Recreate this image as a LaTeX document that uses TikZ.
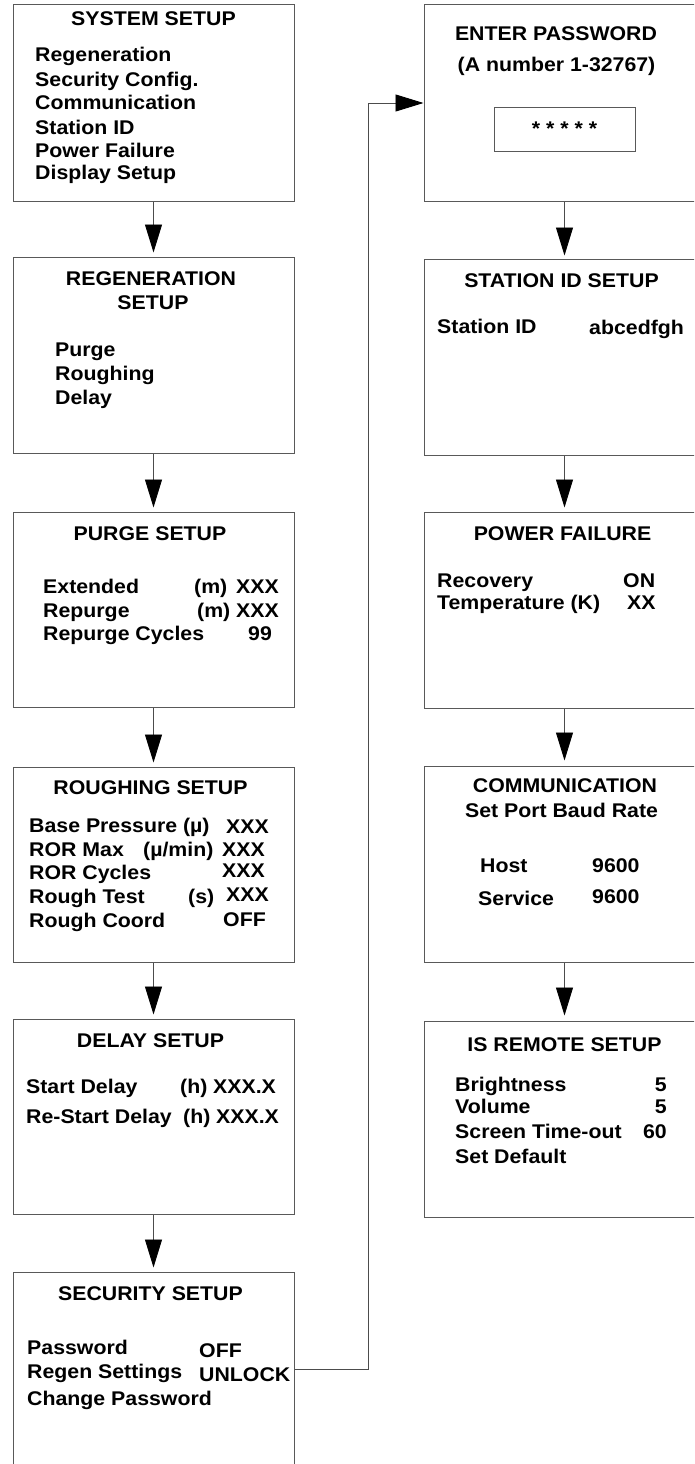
\documentclass[tikz,border=0pt]{standalone}
\usepackage{fontspec}
\setmainfont{Liberation Sans}
\usetikzlibrary{arrows.meta}
\newcommand\sq[1]{\scalebox{1}[0.93]{#1}}
\begin{document}
\begin{tikzpicture}[x=1pt,y=-1pt,
  box/.style={draw=black!65,line width=1pt,rectangle,inner sep=0,minimum width=281pt},
  lbl/.style={inner sep=0,anchor=base west,font=\fontsize{21.3}{25}\selectfont\bfseries},
  rlbl/.style={lbl,anchor=base east},
  ttl/.style={lbl,anchor=base},
  arr/.style={draw=black!70,line width=0.9pt,-{Triangle[length=28pt,width=17pt,color=black]}},
]
\useasboundingbox (0,0) rectangle (694,1464);
\clip (0,0) rectangle (694,1464);
% left column boxes
\node[box,minimum height=196pt] (sys) at (153.5,103) {};
\node[box,minimum height=196pt] (regen) at (153.5,355) {};
\node[box,minimum height=195pt] (purge) at (153.5,609.5) {};
\node[box,minimum height=195pt] (rough) at (153.5,864.5) {};
\node[box,minimum height=195pt] (delay) at (153.5,1116.5) {};
\node[box,minimum height=195pt] (sec) at (153.5,1369.5) {};
% right column boxes
\node[box,minimum height=196pt] (pw) at (564.5,103) {};
\node[box,minimum width=141pt,minimum height=44pt] (pwbox) at (564.5,129) {};
\node[box,minimum height=196pt] (sid) at (564.5,357) {};
\node[box,minimum height=196pt] (pf) at (564.5,610) {};
\node[box,minimum height=196pt] (comm) at (564.5,864) {};
\node[box,minimum height=196pt] (rem) at (564.5,1119) {};
% connectors
\draw[arr,shorten >=4pt] (sys) -- (regen);
\draw[arr,shorten >=4pt] (regen) -- (purge);
\draw[arr,shorten >=4pt] (purge) -- (rough);
\draw[arr,shorten >=4pt] (rough) -- (delay);
\draw[arr,shorten >=4pt] (delay) -- (sec);
\draw[arr,shorten >=3pt] (pw) -- (sid);
\draw[arr,shorten >=4pt] (sid) -- (pf);
\draw[arr,shorten >=5pt] (pf) -- (comm);
\draw[arr,shorten >=5pt] (comm) -- (rem);
\coordinate (bend) at (368,1369.5);
\draw[arr] (sec.east) -- (bend) |- (pw.west);
% SYSTEM SETUP
\node[ttl] (t1) at (153.5,26) {\sq{SYSTEM SETUP}};
\node[lbl] (s1) at (35,62) {\sq{Regeneration}};
\node[lbl] (s2) at (35,86) {\sq{Security Config.}};
\node[lbl] (s3) at (35,110) {\sq{Communication}};
\node[lbl] (s4) at (35,134) {\sq{Station ID}};
\node[lbl] (s5) at (35,157) {\sq{Power Failure}};
\node[lbl] (s6) at (35,179) {\sq{Display Setup}};
% REGENERATION SETUP
\node[ttl] (t2a) at (151,285) {\sq{REGENERATION}};
\node[ttl] (t2b) at (153,309) {\sq{SETUP}};
\node[lbl] (r1) at (55,356) {\sq{Purge}};
\node[lbl] (r2) at (55,380) {\sq{Roughing}};
\node[lbl] (r3) at (55,404) {\sq{Delay}};
% PURGE SETUP
\node[ttl] (t3) at (150,540) {\sq{PURGE SETUP}};
\node[lbl] (p1) at (43,593) {\sq{Extended}};
\node[lbl] (p1u) at (194,593) {\sq{(m)}};
\node[lbl] (p1v) at (236,593) {\sq{XXX}};
\node[lbl] (p2) at (43,617) {\sq{Repurge}};
\node[lbl] (p2u) at (197,617) {\sq{(m)}};
\node[lbl] (p2v) at (236,617) {\sq{XXX}};
\node[lbl] (p3) at (43,640) {\sq{Repurge Cycles}};
\node[lbl] (p3v) at (248,640) {\sq{99}};
% ROUGHING SETUP
\node[ttl] (t4) at (150.5,794) {\sq{ROUGHING SETUP}};
\node[lbl] (g1) at (29,832) {\sq{Base Pressure (µ)}};
\node[lbl] (g1v) at (226,833) {\sq{XXX}};
\node[lbl] (g2) at (29,856) {\sq{ROR Max}};
\node[lbl] (g2u) at (143,856) {\sq{(µ/min)}};
\node[lbl] (g2v) at (222,856) {\sq{XXX}};
\node[lbl] (g3) at (29,879) {\sq{ROR Cycles}};
\node[lbl] (g3v) at (222,877) {\sq{XXX}};
\node[lbl] (g4) at (29,903) {\sq{Rough Test}};
\node[lbl] (g4u) at (188,903) {\sq{(s)}};
\node[lbl] (g4v) at (226,901) {\sq{XXX}};
\node[lbl] (g5) at (29,927) {\sq{Rough Coord}};
\node[lbl] (g5v) at (223,926) {\sq{OFF}};
% DELAY SETUP
\node[ttl] (t5) at (150.5,1047) {\sq{DELAY SETUP}};
\node[lbl] (d1) at (26,1093) {\sq{Start Delay}};
\node[lbl] (d1u) at (180,1093) {\sq{(h)}};
\node[lbl] (d1v) at (213,1093) {\sq{XXX.X}};
\node[lbl] (d2) at (26,1123) {\sq{Re-Start Delay}};
\node[lbl] (d2u) at (183,1123) {\sq{(h)}};
\node[lbl] (d2v) at (216,1123) {\sq{XXX.X}};
% SECURITY SETUP
\node[ttl] (t6) at (150.5,1300) {\sq{SECURITY SETUP}};
\node[lbl] (c1) at (27,1354) {\sq{Password}};
\node[lbl] (c1v) at (199,1357) {\sq{OFF}};
\node[lbl] (c2) at (27,1378) {\sq{Regen Settings}};
\node[lbl] (c2v) at (199,1381) {\sq{UNLOCK}};
\node[lbl] (c3) at (27,1405) {\sq{Change Password}};
% ENTER PASSWORD
\node[ttl] (t7a) at (556,41) {\sq{ENTER PASSWORD}};
\node[ttl] (t7b) at (556.5,71) {\sq{(A number 1-32767)}};
\node[ttl] (stars) at (564.5,135) {\sq{* * * * *}};
% STATION ID SETUP
\node[ttl] (t8) at (561.5,287) {\sq{STATION ID SETUP}};
\node[lbl] (i1) at (437,333) {\sq{Station ID}};
\node[lbl] (i1v) at (589,334) {\sq{abcedfgh}};
% POWER FAILURE
\node[ttl] (t9) at (562.5,540) {\sq{POWER FAILURE}};
\node[lbl] (f1) at (437,587) {\sq{Recovery}};
\node[lbl] (f1v) at (623,587) {\sq{ON}};
\node[lbl] (f2) at (437,609) {\sq{Temperature (K)}};
\node[lbl] (f2v) at (627,609) {\sq{XX}};
% COMMUNICATION
\node[ttl] (t10a) at (565,792) {\sq{COMMUNICATION}};
\node[ttl] (t10b) at (561.5,817) {\sq{Set Port Baud Rate}};
\node[lbl] (m1) at (480,872) {\sq{Host}};
\node[lbl] (m1v) at (592,872) {\sq{9600}};
\node[lbl] (m2) at (478,905) {\sq{Service}};
\node[lbl] (m2v) at (592,903) {\sq{9600}};
% IS REMOTE SETUP
\node[ttl] (t11) at (564.5,1051) {\sq{IS REMOTE SETUP}};
\node[lbl] (e1) at (455,1091) {\sq{Brightness}};
\node[rlbl] (e1v) at (667,1091) {\sq{5}};
\node[lbl] (e2) at (455,1113) {\sq{Volume}};
\node[rlbl] (e2v) at (667,1113) {\sq{5}};
\node[lbl] (e3) at (455,1138) {\sq{Screen Time-out}};
\node[rlbl] (e3v) at (667,1138) {\sq{60}};
\node[lbl] (e4) at (455,1163) {\sq{Set Default}};
\end{tikzpicture}
\end{document}
